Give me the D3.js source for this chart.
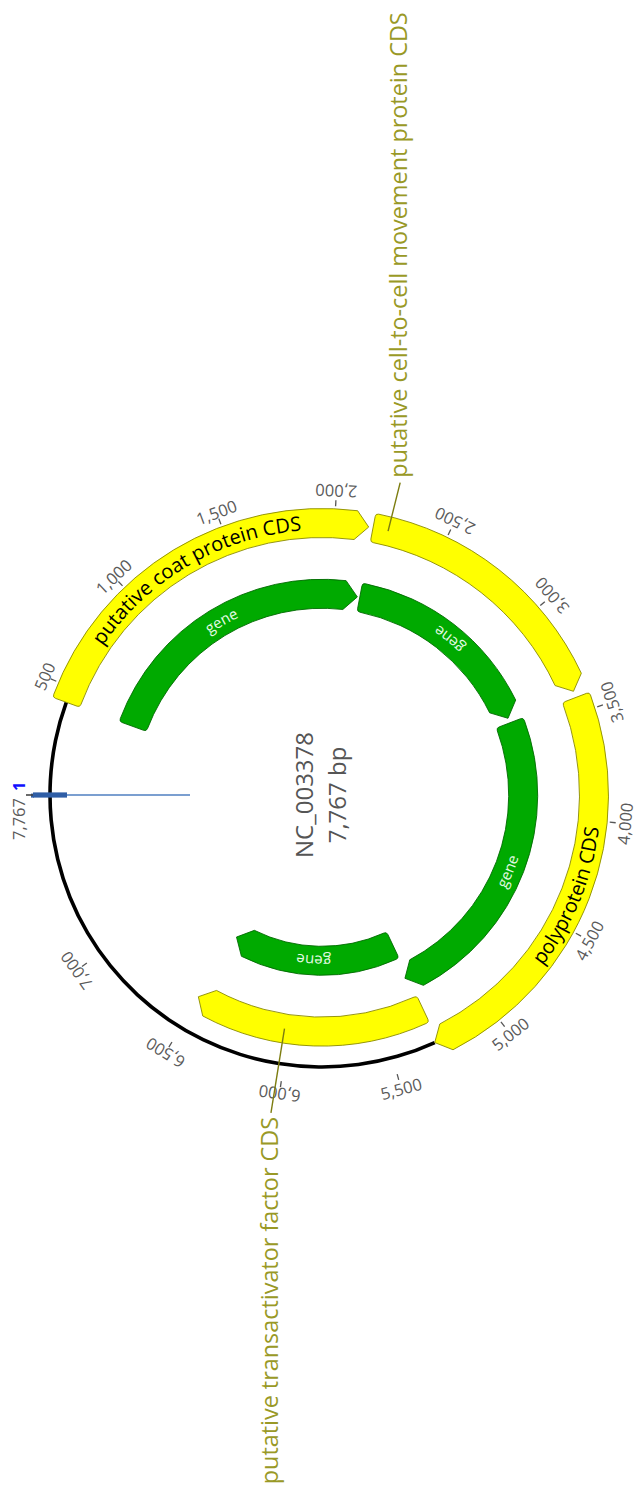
<!DOCTYPE html>
<html>
<head>
<meta charset="utf-8">
<script src="https://cdn.jsdelivr.net/npm/d3@7"></script>
<style>
  html, body { margin: 0; padding: 0; background: #ffffff; }
  svg { display: block; font-family: "Open Sans", "Noto Sans", sans-serif; }
</style>
</head>
<body>
<svg id="map" width="640" height="1488"></svg>
<script>
// ---- sequence ----
const seqName = "NC_003378";
const seqLength = 7767;
const seqLengthLabel = "7,767 bp";

// ---- annotations ----
const featureLabels = [
  "putative coat protein CDS",
  "putative cell-to-cell movement protein CDS",
  "polyprotein CDS",
  "putative transactivator factor CDS",
  "gene", "gene", "gene", "gene"
];
const featureTypes  = ["CDS", "CDS", "CDS", "CDS", "gene", "gene", "gene", "gene"];
const featureStarts = [430, 2175, 3430, 5280, 430, 2175, 3430, 5280];
const featureEnds   = [2155, 3400, 5297, 6505, 2160, 3400, 5300, 6495];

// ---- ruler ----
const tickValues = [500, 1000, 1500, 2000, 2500, 3000, 3500, 4000, 4500, 5000, 5500, 6000, 6500, 7000];
const tickLabels = ["500", "1,000", "1,500", "2,000", "2,500", "3,000", "3,500", "4,000",
                    "4,500", "5,000", "5,500", "6,000", "6,500", "7,000"];
const originLabel = "1";
const endLabel = "7,767";

// ---- drawing ----
const svg = d3.select("#map");
const cx = 322, cy = 795;
const backboneR = 272;
const trackStep = 35.4;
const halfW = 14.5;
const headLen = 13;

const typeOrder = ["CDS", "gene"];
const fillOf   = { CDS: "#ffff00", gene: "#00aa00" };
const strokeOf = { CDS: "#8a8a00", gene: "#006a00" };
const textOf   = { CDS: "#000000", gene: "#e4fbe4" };
const fontOf   = { CDS: 20, gene: 15 };
const calloutColor = "#999926";

// map is drawn with position 1 at the top, then turned a quarter turn
const g = svg.append("g").attr("transform", `translate(${cx},${cy}) rotate(-90)`);

const theta = d3.scaleLinear().domain([0, seqLength]).range([0, 2 * Math.PI]);
const toDeg = a => a * 180 / Math.PI;
const polar = (r, a) => [r * Math.sin(a), -r * Math.cos(a)];

// assemble features and pack them into tracks (CDS first, then genes)
const feats = featureLabels.map((label, i) => ({
  label, type: featureTypes[i], start: featureStarts[i], end: featureEnds[i], index: i
}));
let rowBase = 0;
typeOrder.forEach(t => {
  const group = feats.filter(f => f.type === t).sort((a, b) => a.start - b.start);
  const rowEnds = [];
  group.forEach(f => {
    let k = rowEnds.findIndex(e => e <= f.start);
    if (k < 0) { k = rowEnds.length; rowEnds.push(0); }
    rowEnds[k] = f.end;
    f.row = rowBase + k;
  });
  rowBase += rowEnds.length;
});
const trackR = row => backboneR - row * trackStep;

// backbone: drawn only where the first track leaves the sequence uncovered
const outer = feats.filter(f => f.row === 0).sort((a, b) => a.start - b.start);
const gaps = [];
outer.forEach((f, i) => {
  const next = outer[(i + 1) % outer.length];
  const nextStart = i + 1 < outer.length ? next.start : next.start + seqLength;
  if (nextStart - f.end > 60) gaps.push([f.end, nextStart]);
});
const ring = d3.arc().innerRadius(backboneR - 1.8).outerRadius(backboneR + 1.8);
g.selectAll("path.backbone").data(gaps).join("path")
  .attr("class", "backbone")
  .attr("d", d => ring({ startAngle: theta(d[0]), endAngle: theta(d[1]) }))
  .attr("fill", "#000");

// arrow-shaped feature outline
function featurePath(a0, a1, r, w, head, corner) {
  const p = d3.path();
  const ro = r + w, ri = r - w;
  const ha = Math.min(head / r, (a1 - a0) * 0.5);
  const ab = a1 - ha;
  const co = corner / ro, ci = corner / ri;
  const q = Math.PI / 2;
  p.moveTo(...polar(ro, a0 + co));
  p.arc(0, 0, ro, a0 + co - q, ab - q, false);
  p.lineTo(...polar(r, a1));
  p.lineTo(...polar(ri, ab));
  p.arc(0, 0, ri, ab - q, a0 + ci - q, true);
  p.quadraticCurveTo(...polar(ri, a0), ...polar(ri + corner, a0));
  p.lineTo(...polar(ro - corner, a0));
  p.quadraticCurveTo(...polar(ro, a0), ...polar(ro, a0 + co));
  p.closePath();
  return p.toString();
}

g.selectAll("path.feature").data(feats).join("path")
  .attr("class", "feature")
  .attr("d", d => featurePath(theta(d.start), theta(d.end), trackR(d.row), halfW, headLen, 3))
  .attr("fill", d => fillOf[d.type])
  .attr("stroke", d => strokeOf[d.type])
  .attr("stroke-width", 0.9)
  .attr("stroke-linejoin", "round");

// ruler ticks and labels
const tickIn = 289, tickOut = 295;
g.selectAll("line.tick").data(tickValues).join("line")
  .attr("class", "tick")
  .attr("x1", d => polar(tickIn, theta(d))[0]).attr("y1", d => polar(tickIn, theta(d))[1])
  .attr("x2", d => polar(tickOut, theta(d))[0]).attr("y2", d => polar(tickOut, theta(d))[1])
  .attr("stroke", "#555").attr("stroke-width", 1.3);

g.selectAll("text.tickLabel").data(tickValues).join("text")
  .attr("class", "tickLabel")
  .attr("transform", d => {
    const a = toDeg(theta(d));
    const flip = a > 90 && a < 270;
    return flip ? `rotate(${a}) translate(0,${-304}) rotate(180)` : `rotate(${a}) translate(0,${-302})`;
  })
  .attr("text-anchor", "middle")
  .attr("dominant-baseline", "central")
  .attr("font-size", 16.5)
  .attr("fill", "#5a5a5a")
  .text((d, i) => tickLabels[i]);

// origin marker
const origin = g.append("g").attr("class", "origin");
origin.append("line")
  .attr("x1", 0).attr("y1", -132).attr("x2", 0).attr("y2", -255)
  .attr("stroke", "#4f7fc0").attr("stroke-width", 1.6);
origin.append("rect")
  .attr("x", -2.6).attr("y", -289).attr("width", 5.2).attr("height", 34)
  .attr("fill", "#2f5ea6");
origin.append("rect")
  .attr("x", -2.6).attr("y", -291).attr("width", 4).attr("height", 3)
  .attr("fill", "#2f5ea6");
origin.append("line")
  .attr("x1", 0).attr("y1", -tickIn).attr("x2", 0).attr("y2", -296)
  .attr("stroke", "#444").attr("stroke-width", 1.6);
origin.append("text")
  .attr("x", 4).attr("y", -304)
  .attr("dominant-baseline", "central")
  .attr("font-size", 16.5).attr("font-weight", 700)
  .attr("fill", "#1010ff")
  .text(originLabel);
origin.append("text")
  .attr("x", -3).attr("y", -304)
  .attr("text-anchor", "end")
  .attr("dominant-baseline", "central")
  .attr("font-size", 16.5)
  .attr("fill", "#5a5a5a")
  .text(endLabel);

// centre title
g.append("text")
  .attr("x", 0).attr("y", -9)
  .attr("text-anchor", "middle")
  .attr("font-size", 24).attr("fill", "#555")
  .text(seqName);
g.append("text")
  .attr("x", 0).attr("y", 24)
  .attr("text-anchor", "middle")
  .attr("font-size", 24).attr("fill", "#555")
  .text(seqLengthLabel);

// feature labels: along the arc when they fit, otherwise called out
const defs = svg.append("defs");
const calloutAnchor = { 1: 2245, 3: 6022 };
const calloutR = 322;

feats.forEach(f => {
  const r = trackR(f.row);
  const a0 = theta(f.start), a1 = theta(f.end);
  const fs = fontOf[f.type];
  const probe = g.append("text").attr("font-size", fs).text(f.label);
  const w = probe.node().getComputedTextLength();
  probe.remove();
  const arcLen = (a1 - a0) * r;

  if (w + 20 < arcLen) {
    const mid = (a0 + a1) / 2;
    const md = toDeg(mid) % 360;
    const flip = md > 90 && md < 270;
    const rb = flip ? r + 0.34 * fs : r - 0.34 * fs;
    const q = Math.PI / 2, span = Math.PI - 0.05;
    const p = d3.path();
    if (!flip) {
      p.moveTo(...polar(rb, mid - span));
      p.arc(0, 0, rb, mid - span - q, mid + span - q, false);
    } else {
      p.moveTo(...polar(rb, mid + span));
      p.arc(0, 0, rb, mid + span - q, mid - span - q, true);
    }
    const id = "lblpath" + f.index;
    defs.append("path").attr("id", id).attr("d", p.toString());
    g.append("text")
      .attr("font-size", fs)
      .attr("fill", textOf[f.type])
      .append("textPath")
      .attr("href", "#" + id)
      .attr("startOffset", "50%")
      .attr("text-anchor", "middle")
      .text(f.label);
  } else {
    const a = theta(calloutAnchor[f.index]);
    const [x1, y1] = polar(r, a);
    const [x2, y2] = polar(calloutR, a);
    g.append("line")
      .attr("x1", x1).attr("y1", y1).attr("x2", x2).attr("y2", y2)
      .attr("stroke", "#7d7d10").attr("stroke-width", 1.4);
    const right = x2 > 0;
    g.append("text")
      .attr("x", right ? x2 + 5 : x2 - 4)
      .attr("y", y2)
      .attr("dy", "0.3em")
      .attr("text-anchor", right ? "start" : "end")
      .attr("font-size", 23.4)
      .attr("fill", calloutColor)
      .text(f.label);
  }
});
</script>
</body>
</html>
